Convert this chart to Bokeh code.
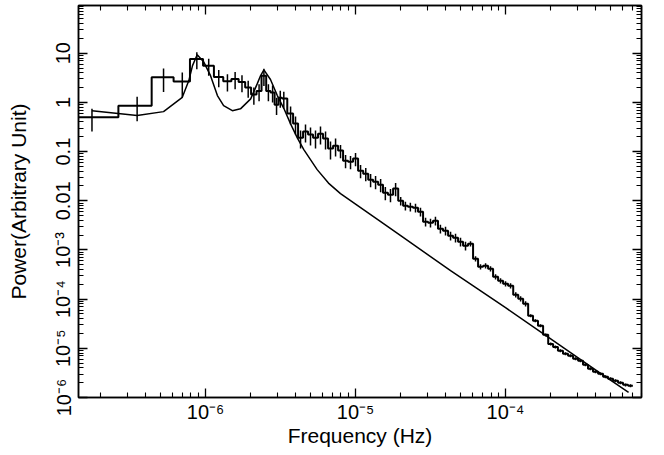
import numpy as np
from bokeh.plotting import figure
from bokeh.models import LogAxis, Range1d, CustomJSTickFormatter, FixedTicker
from bokeh.embed import file_html
from bokeh.resources import INLINE

# ---- data: low-frequency (linear) bins ----
freq_lin = [1.75e-7, 3.50e-7, 5.25e-7, 7.00e-7, 8.75e-7, 1.05e-6, 1.225e-6, 1.40e-6,
            1.575e-6, 1.75e-6, 1.925e-6, 2.10e-6, 2.275e-6, 2.45e-6, 2.625e-6, 2.80e-6,
            2.975e-6, 3.15e-6, 3.325e-6]
power_lin = [0.50, 0.86, 3.25, 2.65, 7.6, 5.6, 3.3, 2.7,
             3.0, 2.6, 2.0, 1.45, 1.7, 3.5, 1.7, 1.6,
             0.9, 1.25, 1.2]
relerr_lin = [0.49, 0.52, 0.5, 0.53, 0.38, 0.38, 0.38, 0.38,
              0.38, 0.38, 0.38, 0.38, 0.38, 0.38, 0.38, 0.38,
              0.38, 0.38, 0.38]

# ---- data: high-frequency (rebinned) bins ----
freq_log = [3.69e-6, 3.98e-6, 4.30e-6, 4.64e-6, 5.01e-6, 5.41e-6, 5.84e-6, 6.31e-6, 6.81e-6,
            7.36e-6, 7.94e-6, 8.58e-6, 9.26e-6,
            1.00e-5, 1.08e-5, 1.17e-5, 1.26e-5, 1.36e-5, 1.47e-5, 1.58e-5, 1.71e-5, 1.85e-5,
            2.00e-5, 2.15e-5, 2.32e-5, 2.51e-5, 2.71e-5, 2.93e-5, 3.16e-5, 3.41e-5, 3.68e-5,
            3.98e-5, 4.30e-5, 4.64e-5, 5.01e-5, 5.41e-5, 5.84e-5, 6.31e-5, 6.81e-5, 7.36e-5,
            7.94e-5, 8.58e-5, 9.26e-5,
            1.00e-4, 1.08e-4, 1.17e-4, 1.26e-4, 1.36e-4, 1.47e-4, 1.58e-4, 1.71e-4, 1.85e-4,
            2.00e-4, 2.15e-4, 2.32e-4, 2.51e-4, 2.71e-4, 2.93e-4, 3.16e-4, 3.41e-4, 3.68e-4,
            3.98e-4, 4.30e-4, 4.64e-4, 5.01e-4, 5.41e-4, 5.84e-4, 6.31e-4, 6.81e-4]
power_log = [0.593, 0.371, 0.192, 0.255, 0.222, 0.192, 0.232, 0.184, 0.115,
             0.132, 0.105, 0.0655, 0.0625,
             0.0720, 0.0410, 0.0356, 0.0269, 0.0245, 0.0213, 0.0146, 0.0133, 0.0177,
             0.0100, 0.00796, 0.00759, 0.00724, 0.00601, 0.00376, 0.00359, 0.00394, 0.00271,
             0.00247, 0.00195, 0.00178, 0.00147, 0.00122, 0.00134, 6.64e-4, 4.56e-4, 4.79e-4,
             4.16e-4, 2.86e-4, 2.37e-4,
             2.06e-4, 1.87e-4, 1.23e-4, 1.02e-4, 8.05e-5, 4.59e-5, 3.63e-5, 2.88e-5, 1.88e-5,
             1.23e-5, 1.07e-5, 8.91e-6, 7.74e-6, 7.05e-6, 6.12e-6, 5.58e-6, 4.62e-6, 3.84e-6,
             3.33e-6, 3.03e-6, 2.64e-6, 2.40e-6, 2.19e-6, 1.99e-6, 1.81e-6, 1.73e-6]
relerr_log = [0.4] * 10 + [0.3] * 12 + [0.2] * 14 + [0.12] * 12 + [0.07] * 21

# ---- model curve ----
model_freq = [1.75e-7, 3.50e-7, 5.25e-7, 7.00e-7, 7.74e-7, 8.19e-7, 8.80e-7, 9.74e-7,
              1.08e-6, 1.20e-6, 1.32e-6, 1.51e-6, 1.71e-6, 2.00e-6, 2.21e-6, 2.33e-6,
              2.45e-6, 2.71e-6, 3.01e-6, 3.33e-6, 3.69e-6, 4.09e-6, 4.52e-6, 5.55e-6,
              6.60e-6, 7.94e-6, 1.40e-5, 2.00e-5, 4.30e-5, 1.00e-4, 2.00e-4, 4.30e-4, 6.61e-4]
model_power = [0.68, 0.54, 0.65, 1.27, 2.78, 5.6, 9.3, 6.6,
               3.5, 1.38, 0.86, 0.68, 0.74, 1.18, 2.38, 3.52,
               4.6, 2.92, 1.38, 0.75, 0.366, 0.19, 0.11, 0.043,
               0.0229, 0.014, 0.0042, 0.00195, 3.8e-4, 6.7e-5, 1.56e-5, 3.1e-6, 1.27e-6]

FONT = "Liberation Sans"

freq = np.array(freq_lin + freq_log)
power = np.array(power_lin + power_log)
rel = np.array(relerr_lin + relerr_log)

mid = (freq[:-1] + freq[1:]) / 2
edges = np.concatenate([[freq[0] - (freq[1] - freq[0]) / 2], mid,
                        [freq[-1] + (freq[-1] - freq[-2]) / 2]])
step_x = np.repeat(edges, 2)[1:-1]
step_y = np.repeat(power, 2)

p = figure(width=664, height=455, x_axis_type="log", y_axis_type="log",
           x_range=Range1d(1.423e-7, 8.06e-4), y_range=Range1d(1e-6, 93.5),
           output_backend="svg", toolbar_location=None,
           min_border_left=78, min_border_right=23, min_border_top=5, min_border_bottom=58)
p.background_fill_color = "white"
p.border_fill_color = "white"
p.xgrid.visible = False
p.ygrid.visible = False
p.outline_line_color = "black"
p.outline_line_width = 1.5

p.line(step_x, step_y, color="black", line_width=2.0)
p.segment(x0=freq, y0=power * (1 - rel), x1=freq, y1=power * (1 + rel),
          color="black", line_width=1.5)
p.line(model_freq, model_power, color="black", line_width=1.5)

fmt_code = r"""
const e = Math.round(Math.log10(tick));
if (e === 1) return "10";
if (e === 0) return "1";
if (e === -1) return "0.1";
if (e === -2) return "0.01";
const sup = {"-": "\u207b", "0": "\u2070", "1": "\u00b9", "2": "\u00b2", "3": "\u00b3",
             "4": "\u2074", "5": "\u2075", "6": "\u2076", "7": "\u2077", "8": "\u2078", "9": "\u2079"};
return "10" + String(e).split("").map(c => sup[c]).join("");
"""
blank_code = 'return "";'

x_major = [10.0 ** e for e in range(-7, -2)]
x_minor = [m * 10.0 ** e for e in range(-7, -2) for m in range(2, 10)]
y_major = [10.0 ** e for e in range(-6, 3)]
y_minor = [m * 10.0 ** e for e in range(-6, 3) for m in range(2, 10)]


def style(ax, labels=True):
    ax.major_tick_in = 9
    ax.major_tick_out = 0
    ax.minor_tick_in = 5
    ax.minor_tick_out = 0
    ax.major_tick_line_width = 1.3
    ax.minor_tick_line_width = 1.1
    ax.axis_line_width = 1.5
    ax.major_label_text_font = FONT
    ax.major_label_text_font_size = "20px"
    ax.major_label_text_color = "black"
    ax.axis_label_text_font = FONT
    ax.axis_label_text_font_size = "21px"
    ax.axis_label_text_font_style = "normal"
    ax.axis_label_text_color = "black"
    ax.formatter = CustomJSTickFormatter(code=fmt_code if labels else blank_code)


xb = p.xaxis[0]
xb.ticker = FixedTicker(ticks=x_major, minor_ticks=x_minor)
style(xb)
xb.axis_label = "Frequency (Hz)"
xb.major_label_standoff = 3
xb.axis_label_standoff = -2

yl = p.yaxis[0]
yl.ticker = FixedTicker(ticks=y_major, minor_ticks=y_minor)
style(yl)
yl.axis_label = "Power(Arbitrary Unit)"
yl.major_label_orientation = "vertical"
yl.major_label_standoff = 4
yl.axis_label_standoff = 20

top = LogAxis(ticker=FixedTicker(ticks=x_major, minor_ticks=x_minor))
style(top, labels=False)
top.major_label_standoff = 0
p.add_layout(top, "above")

right = LogAxis(ticker=FixedTicker(ticks=y_major, minor_ticks=y_minor))
style(right, labels=False)
right.major_label_standoff = 0
p.add_layout(right, "right")

open("out.html", "w").write(file_html(p, INLINE))
